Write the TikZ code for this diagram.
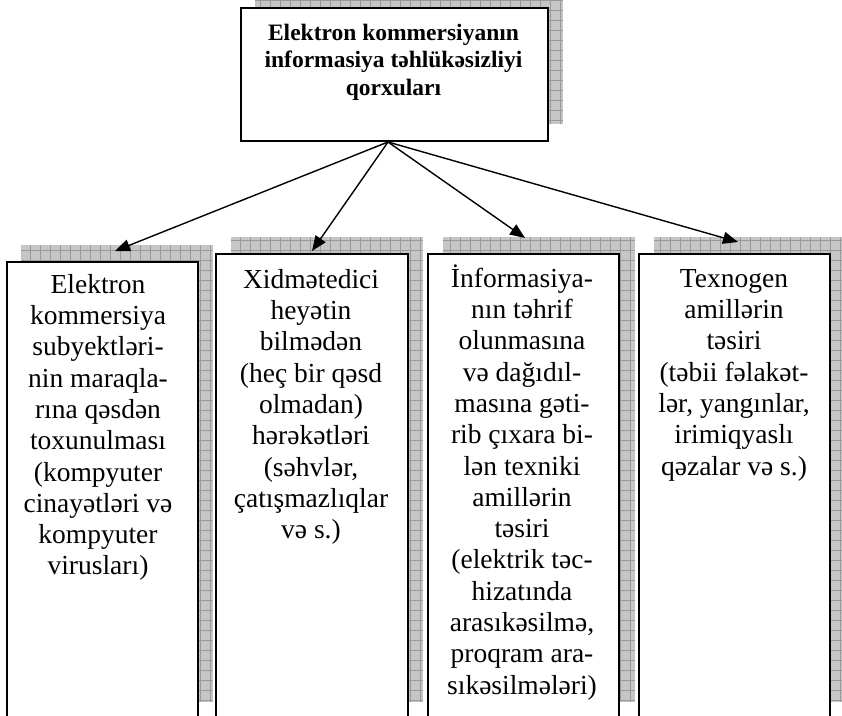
\documentclass[tikz,border=0pt]{standalone}
\usepackage{fontspec}
\setmainfont{Liberation Serif}
\usetikzlibrary{arrows.meta}

% hatched drop shadow: light grey fill with a 10pt grid on top
\newcommand\gridshadow[4]{%
  \begin{scope}
    \clip (#1,#2) rectangle (#3,#4);
    \fill[shadowfill] (#1,#2) rectangle (#3,#4);
    \draw[shadowgrid] (#1,#2) grid (#3,#4);
  \end{scope}}

\tikzset{
  shadowfill/.style={fill=gray!45},
  shadowgrid/.style={draw=gray!80, line width=0.6pt, step=10pt},
  panel/.style={draw=black, line width=2pt, fill=white, inner sep=0pt,
                anchor=north west, rectangle},
  headtext/.style={anchor=north, inner sep=0pt, align=center,
                   font=\fontsize{23.5}{27.5}\selectfont\bfseries},
  bodytext/.style={anchor=north, inner sep=0pt, align=center,
                   font=\fontsize{27.5}{31.3}\selectfont},
  link/.style={draw=black, line width=1.4pt,
               -{Triangle[length=15pt,width=12pt]}}
}

\begin{document}
\begin{tikzpicture}[x=1pt,y=-1pt]
  \useasboundingbox (0,0) rectangle (842,715);

  % shadows behind the panels
  \gridshadow{255}{-10}{563}{124}
  \gridshadow{21}{245}{213}{702}
  \gridshadow{231}{237}{423}{702}
  \gridshadow{443}{237}{635}{702}
  \gridshadow{654}{237}{850}{702}

  % panels
  \node[panel, minimum width=307pt, minimum height=133pt] (top) at (240,7) {};
  \node[panel, minimum width=191pt, minimum height=460pt] (b1) at (6,261) {};
  \node[panel, minimum width=192pt, minimum height=468pt] (b2) at (215,253) {};
  \node[panel, minimum width=191pt, minimum height=468pt] (b3) at (427,253) {};
  \node[panel, minimum width=191pt, minimum height=468pt] (b4) at (638,253) {};

  % texts
  \node[headtext] (ttop) at (393.5,20)
    {\rule{0pt}{20pt}Elektron kommersiyanın\\informasiya təhlükəsizliyi\\qorxuları};
  \node[bodytext] (t1) at (98,269)
    {\rule{0pt}{24pt}Elektron\\kommersiya\\subyektləri-\\nin maraqla-\\rına qəsdən\\toxunulması\\(kompyuter\\cinayətləri və\\kompyuter\\virusları)};
  \node[bodytext] (t2) at (311,264)
    {\rule{0pt}{24pt}Xidmətedici\\heyətin\\bilmədən\\(heç bir qəsd\\olmadan)\\hərəkətləri\\(səhvlər,\\çatışmazlıqlar\\və s.)};
  \node[bodytext] (t3) at (522,263)
    {\rule{0pt}{24pt}İnformasiya-\\nın təhrif\\olunmasına\\və dağıdıl-\\masına gəti-\\rib çıxara bi-\\lən texniki\\amillərin\\təsiri\\(elektrik təc-\\hizatında\\arasıkəsilmə,\\proqram ara-\\sıkəsilmələri)};
  \node[bodytext] (t4) at (734,263)
    {\rule{0pt}{24pt}Texnogen\\amillərin\\təsiri\\(təbii fəlakət-\\lər, yangınlar,\\irimiqyaslı\\qəzalar və s.)};

  % arrow ends
  \coordinate (src) at ([xshift=-6.5pt]top.south);
  \coordinate (e1) at (115,251);
  \coordinate (e2) at (312,251);
  \coordinate (e3) at (525,238);
  \coordinate (e4) at (738,242);

  \draw[link] (src) -- (e1);
  \draw[link] (src) -- (e2);
  \draw[link] (src) -- (e3);
  \draw[link] (src) -- (e4);
\end{tikzpicture}
\end{document}
